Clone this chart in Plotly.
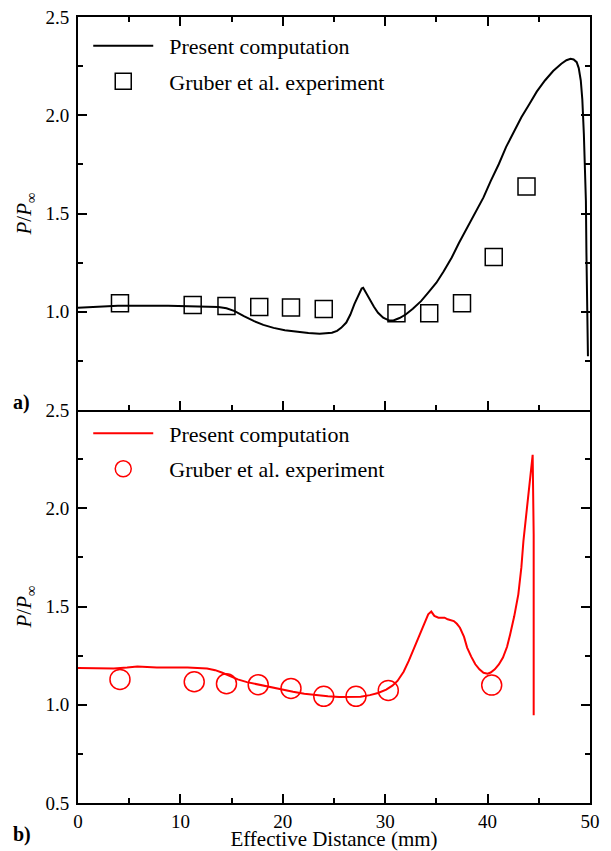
import plotly.graph_objects as go
from plotly.subplots import make_subplots

# ---------------- data ----------------
# Panel a) : present computation (black line)
a_comp_x = [0, 2, 3.9, 8.8, 12, 13.7, 14.5, 15.3, 16.2, 17.2, 18.1, 19.1, 20.2, 21.3,
            22.5, 23.6, 24.3, 24.8, 25.3, 25.7, 26.2, 26.6, 27.0, 27.4, 27.7, 27.85,
            28.0, 28.2, 28.5, 28.9, 29.3, 29.8, 30.4, 30.8, 31.4, 32.0, 32.7, 33.5,
            34.2, 35.0, 35.7, 36.5, 37.2, 38.0, 38.8, 39.6, 40.3, 41.1, 41.8, 42.6,
            43.3, 44.1, 44.8, 45.6, 46.4, 47.2, 47.7, 48.1, 48.4, 48.7, 48.9, 49.1,
            49.25, 49.4, 49.5, 49.6, 49.65, 49.7, 49.8]
a_comp_y = [1.020, 1.027, 1.030, 1.030, 1.028, 1.024, 1.018, 1.003, 0.978, 0.952, 0.933,
            0.918, 0.906, 0.898, 0.892, 0.888, 0.889, 0.893, 0.903, 0.918, 0.945, 0.986,
            1.040, 1.088, 1.118, 1.122, 1.108, 1.090, 1.060, 1.025, 0.995, 0.970, 0.955,
            0.956, 0.968, 0.986, 1.015, 1.054, 1.097, 1.148, 1.205, 1.276, 1.350, 1.429,
            1.505, 1.582, 1.665, 1.752, 1.838, 1.922, 1.990, 2.058, 2.120, 2.177, 2.225,
            2.262, 2.280, 2.287, 2.284, 2.270, 2.240, 2.177, 2.080, 1.905, 1.750, 1.565,
            1.300, 1.054, 0.774]
# Panel a) : Gruber et al. experiment (squares)
a_exp_x = [4.1, 11.2, 14.5, 17.7, 20.8, 24.0, 31.1, 34.3, 37.5, 40.6, 43.8]
a_exp_y = [1.043, 1.034, 1.029, 1.024, 1.022, 1.014, 0.992, 0.992, 1.043, 1.279, 1.638]

# Panel b) : present computation (red line)
b_comp_x = [0, 2, 3.5, 4.8, 5.8, 7.7, 10.7, 12.6, 13.4, 14.1, 14.9, 15.6, 16.5, 17.5,
            18.6, 19.8, 21.0, 22.1, 23.2, 24.4, 25.5, 26.7, 27.6, 28.5, 29.3, 30.1,
            30.7, 31.2, 31.8, 32.3, 32.9, 33.5, 33.9, 34.2, 34.5, 34.8, 35.2, 35.8,
            36.1, 36.7, 37.0, 37.3, 37.7, 38.0, 38.4, 38.8, 39.2, 39.6, 40.0, 40.3,
            40.7, 41.1, 41.5, 41.9, 42.2, 42.6, 43.0, 43.3, 43.5, 43.8, 44.1, 44.4,
            44.5, 44.5]
b_comp_y = [1.187, 1.186, 1.185, 1.190, 1.195, 1.190, 1.190, 1.185, 1.176, 1.163, 1.146,
            1.129, 1.115, 1.104, 1.090, 1.077, 1.066, 1.056, 1.049, 1.043, 1.040, 1.039,
            1.041, 1.049, 1.060, 1.077, 1.097, 1.121, 1.168, 1.223, 1.300, 1.375, 1.425,
            1.460, 1.474, 1.452, 1.443, 1.443, 1.435, 1.426, 1.412, 1.392, 1.345, 1.291,
            1.245, 1.206, 1.180, 1.163, 1.158, 1.164, 1.180, 1.205, 1.240, 1.295, 1.358,
            1.450, 1.562, 1.700, 1.834, 1.980, 2.123, 2.272, 1.868, 0.946]
# Panel b) : Gruber et al. experiment (circles)
b_exp_x = [4.1, 11.35, 14.5, 17.6, 20.8, 24.0, 27.15, 30.3, 40.4]
b_exp_y = [1.129, 1.117, 1.107, 1.102, 1.083, 1.043, 1.043, 1.073, 1.100]

x_ticks = [0, 10, 20, 30, 40, 50]
y_ticks_a = [1.0, 1.5, 2.0, 2.5]
y_ticks_b = [0.5, 1.0, 1.5, 2.0, 2.5]

FONT = "Liberation Serif, Times New Roman, serif"
SP = "\u2002"  # small gap between legend symbol and legend text

fig = make_subplots(rows=2, cols=1, shared_xaxes=False, vertical_spacing=0)

fig.add_trace(go.Scatter(x=a_comp_x, y=a_comp_y, mode="lines",
                         line=dict(color="black", width=2),
                         name=SP + "Present computation", legend="legend",
                         legendgroup="a1"), row=1, col=1)
fig.add_trace(go.Scatter(x=a_exp_x, y=a_exp_y, mode="markers",
                         marker=dict(symbol="square-open", size=17, color="black",
                                     line=dict(width=1.5)),
                         name=SP + "Gruber et al. experiment", legend="legend",
                         legendgroup="a2"), row=1, col=1)
fig.add_trace(go.Scatter(x=b_comp_x, y=b_comp_y, mode="lines",
                         line=dict(color="#ff0000", width=2),
                         name=SP + "Present computation", legend="legend2",
                         legendgroup="b1"), row=2, col=1)
fig.add_trace(go.Scatter(x=b_exp_x, y=b_exp_y, mode="markers",
                         marker=dict(symbol="circle-open", size=20, color="#ff0000",
                                     line=dict(width=1.5)),
                         name=SP + "Gruber et al. experiment", legend="legend2",
                         legendgroup="b2"), row=2, col=1)

axis_common = dict(showline=True, linewidth=2, linecolor="black",
                   ticks="inside", ticklen=9, tickwidth=1.5, tickcolor="black",
                   showgrid=False, zeroline=False,
                   tickfont=dict(family=FONT, size=19, color="black"))

xminor = dict(ticks="inside", ticklen=5, tickwidth=1.5, dtick=5, tick0=0,
              tickcolor="black")
fig.update_xaxes(range=[0, 50], tickvals=x_ticks, minor=xminor,
                 showticklabels=False, mirror="ticks", row=1, col=1, **axis_common)
fig.update_xaxes(range=[0, 50], tickvals=x_ticks, minor=xminor,
                 mirror=False, row=2, col=1,
                 title=dict(text="Effective Distance (mm)", standoff=3,
                            font=dict(family=FONT, size=21, color="black")),
                 **axis_common)

ytitle = "<i>P</i>/<i>P</i><sub>∞</sub>"
yminor = dict(ticks="inside", ticklen=5, tickwidth=1.5, dtick=0.25, tick0=0.5,
              tickcolor="black")
fig.update_yaxes(range=[0.5, 2.5], tickvals=y_ticks_a,
                 ticktext=[f"{v:.1f}" for v in y_ticks_a], minor=yminor,
                 mirror="ticks",
                 title=dict(text=ytitle, standoff=8,
                            font=dict(family=FONT, size=21, color="black")),
                 ticklabelstandoff=3,
                 row=1, col=1, **axis_common)
fig.update_yaxes(range=[0.5, 2.5], tickvals=y_ticks_b,
                 ticktext=[f"{v:.1f}" for v in y_ticks_b], minor=yminor,
                 mirror="ticks",
                 title=dict(text=ytitle, standoff=8,
                            font=dict(family=FONT, size=21, color="black")),
                 ticklabelstandoff=3,
                 row=2, col=1, **axis_common)

legend_common = dict(font=dict(family=FONT, size=22, color="black"),
                     bgcolor="rgba(0,0,0,0)", borderwidth=0,
                     xanchor="left", yanchor="top", itemwidth=60,
                     tracegroupgap=4, traceorder="grouped")
fig.update_layout(
    legend=dict(x=0.02, y=0.99, **legend_common),
    legend2=dict(x=0.02, y=0.497, **legend_common),
)

fig.add_annotation(text="<b>a)</b>", xref="paper", yref="paper", x=-0.11, y=0.51,
                   xanchor="center", yanchor="middle", showarrow=False,
                   font=dict(family=FONT, size=20, color="black"))
fig.add_annotation(text="<b>b)</b>", xref="paper", yref="paper", x=-0.11, y=-0.04,
                   xanchor="center", yanchor="middle", showarrow=False,
                   font=dict(family=FONT, size=20, color="black"))

fig.update_layout(width=611, height=851,
                  font=dict(family=FONT, color="black"),
                  margin=dict(l=78, r=21, t=17, b=48, autoexpand=False),
                  plot_bgcolor="white", paper_bgcolor="white",
                  showlegend=True)

fig.write_html("out.html")
